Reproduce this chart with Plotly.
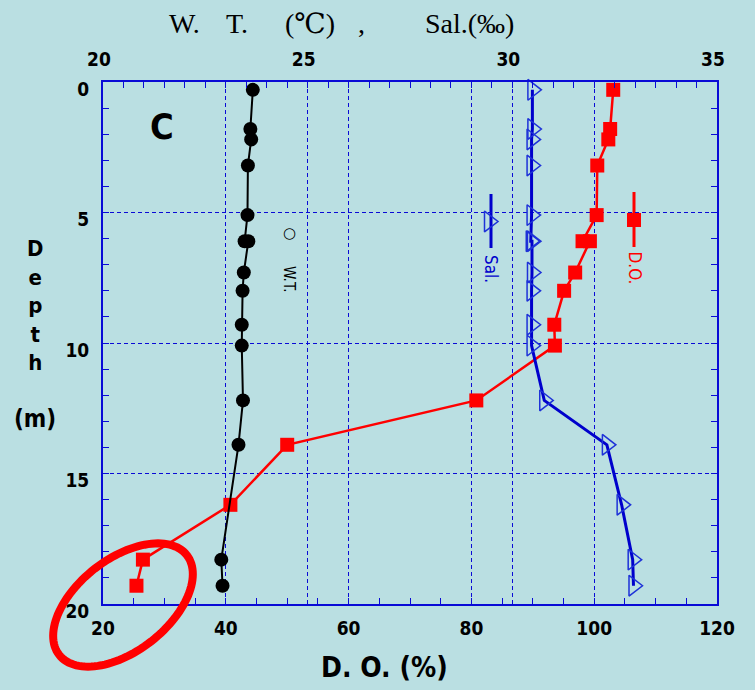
import numpy as np
import plotly.graph_objects as go

# ---- profile data (station C) ----
depth_m = [0.3, 1.8, 2.2, 3.2, 5.1, 6.1, 6.1, 7.3, 8.0, 9.3, 10.1, 12.2, 13.9, 16.2, 18.3, 19.3]
wt_c = [23.66, 23.60, 23.62, 23.54, 23.53, 23.46, 23.55, 23.44, 23.41, 23.39, 23.39, 23.42, 23.31, None, 22.89, 22.92]
sal_permil = [30.49, 30.49, 30.47, 30.47, 30.47, 30.45, 30.48, 30.48, 30.47, 30.47, 30.47, 30.78, 32.31, 32.67, 32.94, 32.96]
do_pct = [103.1, 102.6, 102.3, 100.5, 100.4, 98.1, 99.3, 96.9, 95.1, 93.5, 93.6, 80.8, 50.0, 40.75, 26.5, 25.45]

do_ticks = [20, 40, 60, 80, 100, 120]
top_ticks = [20, 25, 30, 35]
depth_ticks = [0, 5, 10, 15, 20]

station_label = "C"
top_title_parts = ["W.", "T.", "(℃)", ",", "Sal.(‰)"]
bottom_title = "D. O. (%)"
depth_title_word = "Depth"
depth_title_unit = "(m)"

# ---- layout geometry (pixels) ----
W, H = 755, 690
L, R, T, B = 103, 717, 82, 604

BG = "#BADFE2"
AX_BLUE = "#0A0AD6"
SAL_BLUE = "#0000CC"
TRI_BLUE = "#1E32D8"
RED = "#FF0000"

SANS = "DejaVu Sans Condensed, Liberation Sans Narrow, Arial Narrow, DejaVu Sans"
SERIF = "Liberation Serif, DejaVu Serif, serif"


def paper_x(px):
    return (px - L) / (R - L)


def paper_y(py):
    return (B - py) / (B - T)


def do_from_px(px):
    return 20 + (px - L) / (R - L) * 100


def top_from_px(px):
    return 20 + (px - L) / (R - L) * 15


def depth_from_py(py):
    return (py - T) / (B - T) * 20


fig = go.Figure()

# water temperature (top axis)
fig.add_trace(go.Scatter(
    x=wt_c, y=depth_m, xaxis="x2", yaxis="y", mode="lines+markers",
    connectgaps=True,
    line=dict(color="black", width=2),
    marker=dict(symbol="circle", size=14, color="black"),
    showlegend=False, cliponaxis=False,
))

# salinity (top axis)
fig.add_trace(go.Scatter(
    x=sal_permil, y=depth_m, xaxis="x2", yaxis="y", mode="lines+markers",
    line=dict(color=SAL_BLUE, width=3),
    marker=dict(symbol="triangle-right-open", size=18, color=TRI_BLUE,
                line=dict(width=1.5, color=TRI_BLUE)),
    showlegend=False, cliponaxis=False,
))

# dissolved oxygen (bottom axis)
fig.add_trace(go.Scatter(
    x=do_pct, y=depth_m, xaxis="x", yaxis="y", mode="lines+markers",
    line=dict(color=RED, width=2.5),
    marker=dict(symbol="square", size=14, color=RED),
    showlegend=False, cliponaxis=False,
))

# key glyphs for Sal. and D.O.
fig.add_trace(go.Scatter(
    x=[top_from_px(489)], y=[depth_from_py(221.5)], xaxis="x2", yaxis="y",
    mode="markers",
    marker=dict(symbol="triangle-right-open", size=18, color=TRI_BLUE,
                line=dict(width=1.5, color=TRI_BLUE)),
    showlegend=False, cliponaxis=False,
))
fig.add_trace(go.Scatter(
    x=[do_from_px(634)], y=[depth_from_py(220)], xaxis="x", yaxis="y",
    mode="markers",
    marker=dict(symbol="square", size=14, color=RED),
    showlegend=False, cliponaxis=False,
))

shapes = [
    dict(type="line", xref="paper", yref="paper",
         x0=paper_x(491), x1=paper_x(491), y0=paper_y(194), y1=paper_y(248),
         line=dict(color=SAL_BLUE, width=3), layer="below"),
    dict(type="line", xref="paper", yref="paper",
         x0=paper_x(634), x1=paper_x(634), y0=paper_y(192), y1=paper_y(247),
         line=dict(color=RED, width=3), layer="below"),
]

# highlight ring around the two deepest D.O. readings
cx, cy, a, b, ang = 123, 605, 81, 46, np.deg2rad(38)
t = np.linspace(0, 2 * np.pi, 121)
ex = cx + a * np.cos(t) * np.cos(ang) + b * np.sin(t) * np.sin(ang)
ey = cy - a * np.cos(t) * np.sin(ang) + b * np.sin(t) * np.cos(ang)
path = "M " + " L ".join(f"{paper_x(u):.5f},{paper_y(v):.5f}" for u, v in zip(ex, ey)) + " Z"
shapes.append(dict(type="path", xref="paper", yref="paper", path=path,
                   line=dict(color=RED, width=8), fillcolor="rgba(0,0,0,0)", layer="above"))

annotations = []


def add_text(text, px, py, size, color="black", family=SANS, weight="bold", angle=0):
    annotations.append(dict(
        text=text, xref="paper", yref="paper", x=paper_x(px), y=paper_y(py),
        xanchor="center", yanchor="middle", showarrow=False, textangle=angle,
        align="center",
        font=dict(family=family, size=size, color=color, weight=weight),
    ))


# top title, spread out in wide spacing
for part, xx in zip(top_title_parts, [184, 237, 310, 361, 469]):
    add_text(part, xx, 24, 28, family=SERIF, weight="normal")

add_text(bottom_title, 384, 667, 28)
add_text(station_label, 161.5, 126, 36)

# stacked depth title
add_text("<br>".join(depth_title_word), 35, 305, 22)
add_text(depth_title_unit, 35, 419, 24)

# key labels
add_text("○", 289.5, 232.5, 15, weight="normal", family="DejaVu Sans")
add_text("W.T.", 289, 279, 15, weight="normal", angle=90)
add_text("Sal.", 491, 269, 17, color=SAL_BLUE, weight="normal", angle=90)
add_text("D.O.", 634.5, 268, 17, color=RED, weight="normal", angle=90)

tickfont = dict(family=SANS, size=19, color="black", weight="bold")
grid = dict(showgrid=True, gridcolor=AX_BLUE, gridwidth=1, griddash="4px,3px")
axline = dict(showline=True, linecolor=AX_BLUE, linewidth=2, zeroline=False)

fig.update_layout(
    width=W, height=H,
    margin=dict(l=L, r=W - R, t=T, b=H - B),
    paper_bgcolor=BG, plot_bgcolor=BG,
    showlegend=False,
    shapes=shapes, annotations=annotations,
    xaxis=dict(
        range=[20, 120], tickvals=do_ticks, ticktext=[str(v) for v in do_ticks],
        ticks="inside", ticklen=6, tickcolor=AX_BLUE, tickwidth=1,
        minor=dict(dtick=5, ticks="inside", ticklen=6, tickcolor=AX_BLUE, tickwidth=1, showgrid=False),
        tickfont=tickfont, ticklabelstandoff=6, **grid, **axline,
    ),
    xaxis2=dict(
        range=[20, 35], overlaying="x", side="top", anchor="y",
        tickvals=top_ticks, ticktext=[str(v) for v in top_ticks],
        ticks="inside", ticklen=6, tickcolor=AX_BLUE, tickwidth=1,
        minor=dict(dtick=0.5, ticks="inside", ticklen=6, tickcolor=AX_BLUE, tickwidth=1, showgrid=False),
        tickfont=tickfont, ticklabelstandoff=6, ticklabelshift=-4, **grid, **axline,
    ),
    yaxis=dict(
        range=[20, 0], tickvals=depth_ticks, ticktext=[str(v) for v in depth_ticks],
        ticks="inside", ticklen=6, tickcolor=AX_BLUE, tickwidth=1, mirror="allticks",
        minor=dict(dtick=1, ticks="inside", ticklen=6, tickcolor=AX_BLUE, tickwidth=1, showgrid=False),
        tickfont=tickfont, ticklabelstandoff=8, ticklabelshift=-7, **grid, **axline,
    ),
)

fig.write_html("out.html")
